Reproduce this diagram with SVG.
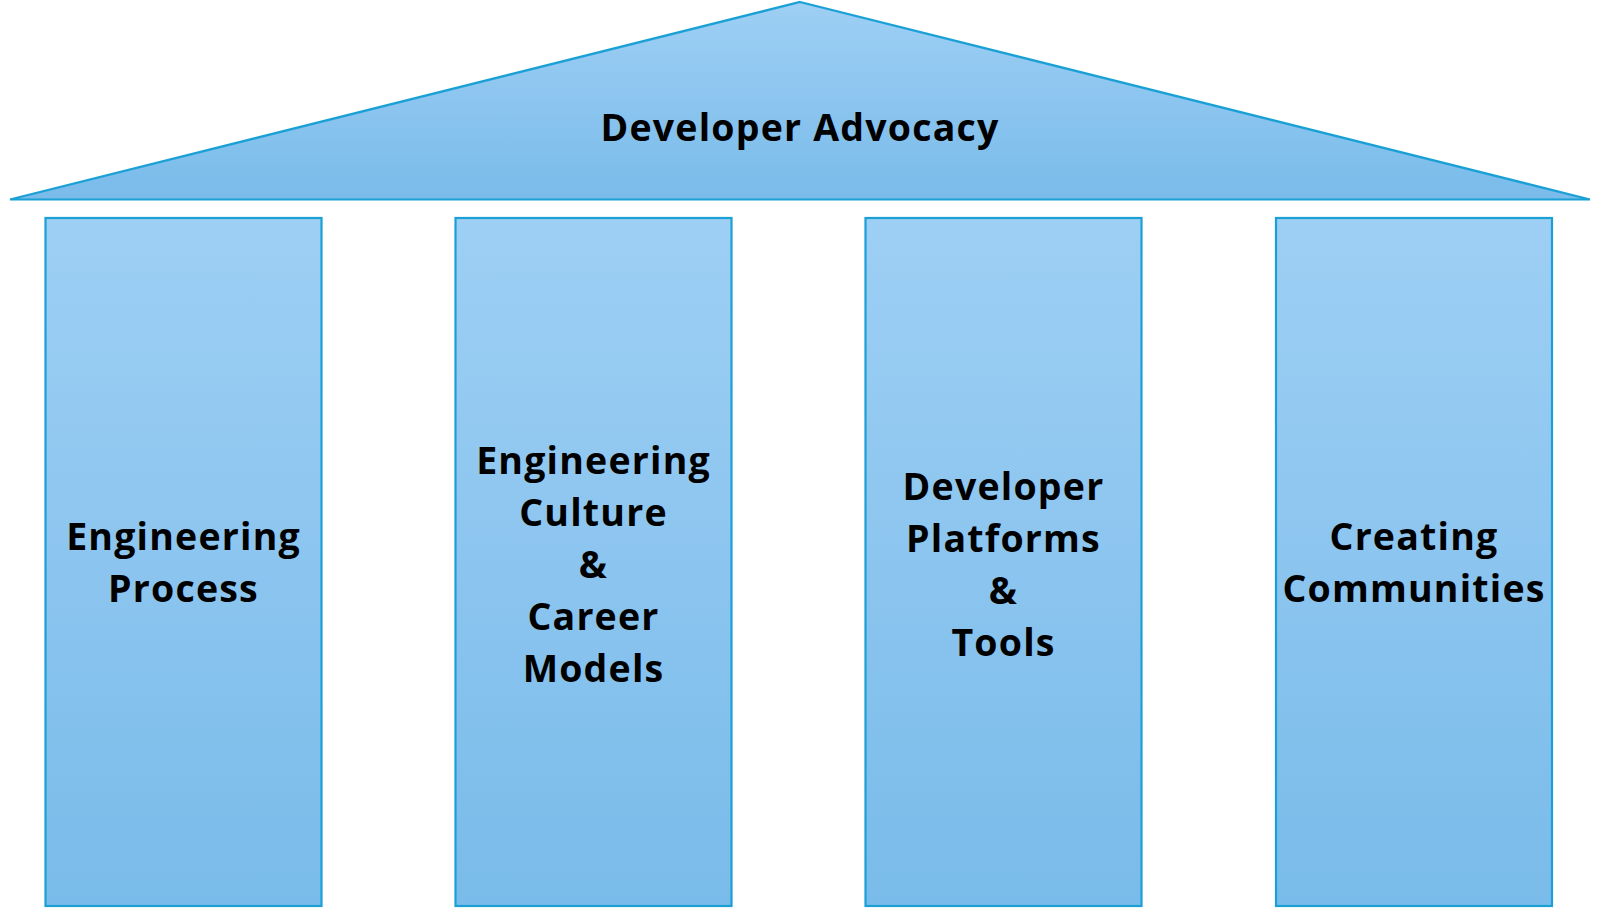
<svg xmlns="http://www.w3.org/2000/svg" width="1600" height="908" viewBox="0 0 1600 908">
<defs>
<linearGradient id="g" x1="0" y1="0" x2="0" y2="1">
<stop offset="0" stop-color="#9ECFF4"/>
<stop offset="1" stop-color="#79BBEA"/>
</linearGradient>
<style>
.s{fill:url(#g);stroke:#1BA0D6;stroke-width:2.2;stroke-linejoin:miter}
.t{font-family:"Open Sans","Noto Sans",sans-serif;font-weight:700;font-size:37.5px;fill:#000;text-anchor:middle;letter-spacing:1.2px}
</style>
</defs>
<g id="roof">
<polygon class="s" points="800,2 1590,199.5 10,199.5"/>
<text class="t" x="800" y="141">Developer Advocacy</text>
</g>
<g id="pillar1">
<rect class="s" x="45.5" y="218" width="276" height="688"/>
<text class="t" x="183.5" y="549.5">Engineering</text>
<text class="t" x="183.5" y="601.5">Process</text>
</g>
<g id="pillar2">
<rect class="s" x="455.5" y="218" width="276" height="688"/>
<text class="t" x="593.5" y="473.5">Engineering</text>
<text class="t" x="593.5" y="525.5">Culture</text>
<text class="t" x="593.5" y="577.5">&amp;</text>
<text class="t" x="593.5" y="629.5">Career</text>
<text class="t" x="593.5" y="681.5">Models</text>
</g>
<g id="pillar3">
<rect class="s" x="865.5" y="218" width="276" height="688"/>
<text class="t" x="1003.5" y="499.5">Developer</text>
<text class="t" x="1003.5" y="551.5">Platforms</text>
<text class="t" x="1003.5" y="603.5">&amp;</text>
<text class="t" x="1003.5" y="655.5">Tools</text>
</g>
<g id="pillar4">
<rect class="s" x="1276" y="218" width="276" height="688"/>
<text class="t" x="1414" y="549.5">Creating</text>
<text class="t" x="1414" y="601.5">Communities</text>
</g>
<g id="connectors"/>
</svg>
